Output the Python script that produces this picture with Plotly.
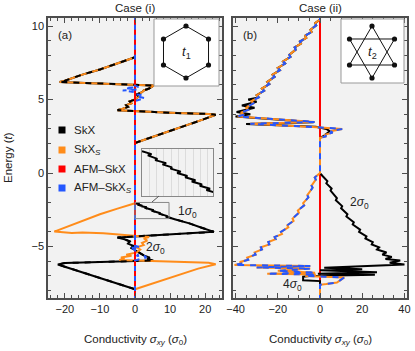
import math
import plotly.graph_objects as go

# ---------------- data: Hall conductivity (sigma_0) vs energy (t) ----------------
# (sigma, E) pairs

# Case (i): SkX, lower band (bottom -> top)
a_skx_low = [(0, -7.9), (-6, -7.45), (-12, -6.95), (-18, -6.5), (-22, -6.22), (-20, -6.12),
             (5.2, -5.95), (3.5, -5.85), (4.2, -5.75), (2.5, -5.6), (1.5, -5.45), (0.5, -5.3),
             (-1, -5.1), (-0.5, -4.95), (-2, -4.8), (-1.5, -4.65), (-3, -4.5), (-5, -4.38),
             (22.5, -4.0), (19, -3.72), (15.5, -3.42), (11.3, -3.14), (9.8, -3.06), (10.2, -3.03),
             (8.8, -2.96), (9.3, -2.93), (7.9, -2.86), (8.2, -2.83), (6.8, -2.76), (7.3, -2.73),
             (5.9, -2.66), (6.2, -2.63), (4.8, -2.56), (5.3, -2.53), (3.9, -2.46), (4.1, -2.43),
             (2.8, -2.36), (3.3, -2.33), (1.8, -2.26), (2.1, -2.23), (0.8, -2.15), (1.3, -2.12),
             (0, -2.05)]

# Case (i): SkX_S, lower band
a_skxs_low = [(0, -7.9), (6, -7.45), (12, -6.95), (18, -6.5), (23, -6.2), (21, -6.1),
              (-4.5, -5.92), (-3, -5.85), (-4, -5.75), (-1, -5.62), (-2.5, -5.55), (0.5, -5.4),
              (1.5, -5.2), (0.5, -5.05), (2.5, -4.9), (2, -4.75), (3.5, -4.6), (2.5, -4.45),
              (4, -4.35), (-1, -4.25), (-6, -4.15), (-9, -4.1), (-15, -4.05), (-18, -4.08),
              (-23, -3.98), (-19, -3.63), (-14.5, -3.2), (-10, -2.8), (-5, -2.42), (0, -2.05)]

# Case (i): upper band, identical for SkX and SkX_S
a_band_up = [(0, 2.05), (5, 2.45), (10, 2.85), (15, 3.3), (19.5, 3.65), (23, 3.97), (21, 4.02),
             (10, 4.1), (-5, 4.28), (-3.5, 4.38), (-2, 4.5), (-2.5, 4.62), (-1, 4.75), (-1.5, 4.88),
             (0, 5.0), (1, 5.2), (0.5, 5.35), (2, 5.5), (2.5, 5.62), (4, 5.75), (5.3, 5.95),
             (-5, 6.05), (-21.5, 6.2), (-20, 6.28), (-15, 6.7), (-10, 7.05), (-5, 7.45), (0, 7.88)]

# Case (i): AFM-SkX_S and AFM-SkX
a_afms = [(0, -8.7), (0, -5.95), (1.5, -5.85), (3.2, -5.75), (2.5, -5.6), (0.5, -5.65), (1, -5.5),
          (0, -5.4), (0, -5.2), (-1.6, -5.08), (1.5, -5.05), (0, -4.95), (0, -4.7), (0, 4.9),
          (2.8, 5.1), (1, 5.2), (2, 5.3), (0, 5.35), (0, 5.5), (-3.5, 5.62), (0.5, 5.68),
          (-2.8, 5.78), (1, 5.85), (0, 5.95), (0, 10.7)]
a_afm = [(0, -8.7), (0, 10.7)]

# Case (ii): SkX_S (AFM-SkX_S is the same)
b_skxs = [(0, -8.7), (0, -7.6), (3, -7.55), (8, -7.45), (9.5, -7.3), (11.5, -7.1), (2, -7.05),
          (-7, -7.0), (-2, -6.9), (-25, -6.85), (-2.3, -6.78), (-20, -6.65), (-4.6, -6.5),
          (-30, -6.42), (-4.6, -6.32), (-40.5, -6.25), (-37, -6.15), (-38, -6.05), (-34, -5.9),
          (-34.5, -5.75), (-30.5, -5.55), (-31, -5.4), (-27.5, -5.2), (-28, -5.05), (-24, -4.85),
          (-24.5, -4.7), (-21, -4.5), (-21.5, -4.35), (-18, -4.15), (-18.5, -4.0), (-15, -3.7),
          (-15.5, -3.55), (-12.5, -3.25), (-13, -3.1), (-10, -2.7), (-10.5, -2.55), (-7.5, -2.2),
          (-8, -2.05), (-5.5, -1.65), (-6, -1.5), (-3.5, -1.0), (-4, -0.85), (-2, -0.45),
          (-2.5, -0.3), (0, 0.0), (0, 2.4), (3, 2.5), (2, 2.6), (6, 2.75), (5, 2.85), (10.5, 3.0),
          (7, 3.05), (-1.5, 3.12), (-33, 3.35), (-2.5, 3.48), (-39, 3.85), (-36, 3.97),
          (-37.5, 4.1), (-34, 4.3), (-35, 4.45), (-31.5, 4.75), (-32.5, 4.9), (-29, 5.15),
          (-30, 5.3), (-26.5, 5.6), (-27.5, 5.75), (-24, 6.05), (-25, 6.2), (-21.5, 6.55),
          (-22.5, 6.7), (-19, 7.0), (-20, 7.15), (-16.5, 7.45), (-17.5, 7.6), (-14, 7.9),
          (-14.5, 8.05), (-11.5, 8.4), (-12, 8.55), (-9, 8.8), (-9.5, 8.95), (-6.5, 9.2),
          (-7, 9.35), (-4, 9.6), (-4.5, 9.75), (-1.8, 10.05), (-2.3, 10.2), (0, 10.45), (0, 10.7)]
b_afms = b_skxs

# Case (ii): SkX
b_skx = [(0, -8.7), (0, -7.65), (0, -7.35), (-8, -7.3), (-8, -7.05), (-5, -7.0), (26, -6.92),
         (-1, -6.85), (27, -6.75), (0, -6.62), (20, -6.55), (2, -6.45), (40, -6.22), (33, -6.1),
         (38, -5.95), (31, -5.85), (34, -5.7), (29.5, -5.55), (31.5, -5.4), (27, -5.2), (28, -5.05),
         (24.5, -4.85), (25, -4.7), (21.5, -4.45), (22, -4.3), (18.5, -4.0), (19, -3.85),
         (15.5, -3.5), (16, -3.35), (12.5, -2.95), (13, -2.8), (10, -2.4), (10.5, -2.25),
         (7.5, -1.85), (8, -1.7), (5, -1.2), (5.5, -1.05), (3, -0.7), (3.5, -0.55), (1.2, -0.2),
         (0, 0.0), (0, 2.4), (2, 2.55), (4.6, 2.85), (3, 3.0), (-2, 3.15), (-35, 3.33), (-3, 3.45),
         (-40, 3.85), (-33, 4.0), (-39.5, 4.15), (-31, 4.45), (-37, 4.6), (-30, 4.85), (-34, 5.0),
         (-29, 5.15), (-30, 5.3), (-26.5, 5.6), (-27.5, 5.75), (-24, 6.05), (-25, 6.2),
         (-21.5, 6.55), (-22.5, 6.7), (-19, 7.0), (-20, 7.15), (-16.5, 7.45), (-17.5, 7.6),
         (-14, 7.9), (-14.5, 8.05), (-11.5, 8.4), (-12, 8.55), (-9, 8.8), (-9.5, 8.95),
         (-6.5, 9.2), (-7, 9.35), (-4, 9.6), (-4.5, 9.75), (-1.8, 10.05), (-2.3, 10.2),
         (0, 10.45), (0, 10.7)]
b_afm = [(0, -8.7), (0, 10.7)]

legend_names = ["SkX", "SkX<sub><i>S</i></sub>", "AFM–SkX", "AFM–SkX<sub><i>S</i></sub>"]
legend_colors = ["#000000", "#ff8c1a", "#ff0000", "#2457ff"]
BLACK, ORANGE, RED, BLUE = legend_colors

W, H = 415, 351
FONT = "Liberation Sans"


def px(x):
    return x / W


def py(y):
    return 1 - y / H


def xy(*segments):
    xs, ys = [], []
    for i, seg in enumerate(segments):
        if i:
            xs.append(None)
            ys.append(None)
        xs += [p[0] for p in seg]
        ys += [p[1] for p in seg]
    return xs, ys


def line(pts_x, pts_y, color, xa, ya, dash="solid"):
    return go.Scatter(x=pts_x, y=pts_y, mode="lines", xaxis=xa, yaxis=ya, showlegend=False,
                      line=dict(color=color, width=2, dash=dash), hoverinfo="skip")


fig = go.Figure()

# case (i)
ax, ay = xy(a_skx_low, a_band_up)
ox, oy = xy(a_skxs_low, a_band_up)
fig.add_trace(line(ax, ay, BLACK, "x", "y"))
fig.add_trace(line(ox, oy, ORANGE, "x", "y"))
fig.add_trace(line(ax, ay, BLACK, "x", "y", "6px,6px"))
fig.add_trace(line(*xy(a_afm), RED, "x", "y"))
fig.add_trace(line(*xy(a_afms), BLUE, "x", "y", "5px,5px"))

# case (ii)
fig.add_trace(line(*xy(b_afm), RED, "x2", "y2"))
fig.add_trace(line(*xy(b_skx), BLACK, "x2", "y2"))
fig.add_trace(line(*xy(b_skxs), ORANGE, "x2", "y2"))
fig.add_trace(line(*xy(b_afms), BLUE, "x2", "y2", "6px,6px"))

# zoom inset of the SkX step region
fig.add_trace(line(ax, ay, BLACK, "x3", "y3"))

axis_common = dict(showline=True, linecolor="#4d4d4d", linewidth=1.5, mirror="allticks",
                   ticks="inside", ticklen=5, tickcolor="#4d4d4d", showgrid=False, zeroline=False,
                   tickfont=dict(family=FONT, size=11, color="#222"))
y_dom = [py(298), py(18)]
fig.update_layout(
    width=W, height=H, margin=dict(l=0, r=0, t=0, b=0),
    paper_bgcolor="white", plot_bgcolor="#f2f2f2", template="none",
    font=dict(family=FONT, size=11, color="#222"),
    xaxis=dict(domain=[px(48), px(222)], range=[-24.8, 24.8], dtick=10, anchor="y",
               minor=dict(dtick=2, ticklen=3, ticks="inside", tickcolor="#4d4d4d"), **axis_common),
    yaxis=dict(domain=y_dom, range=[-8.5, 10.55], dtick=5, anchor="x",
               minor=dict(dtick=1, ticklen=3, ticks="inside", tickcolor="#4d4d4d"), **axis_common),
    xaxis2=dict(domain=[px(233), px(407)], range=[-41.2, 41.2], dtick=20, anchor="y2",
                minor=dict(dtick=5, ticklen=3, ticks="inside", tickcolor="#4d4d4d"), **axis_common),
    yaxis2=dict(domain=y_dom, range=[-8.5, 10.55], dtick=5, anchor="x2", showticklabels=False,
                minor=dict(dtick=1, ticklen=3, ticks="inside", tickcolor="#4d4d4d"), **axis_common),
    xaxis3=dict(domain=[px(142), px(213)], range=[0, 9.7], anchor="y3", showline=True, mirror=True,
                linecolor="#888", linewidth=1, showgrid=True, gridcolor="#dcdcdc", dtick=1,
                showticklabels=False, ticks="", zeroline=False),
    yaxis3=dict(domain=[py(196), py(149)], range=[-3.1, -2.0], anchor="x3", showline=True, mirror=True,
                linecolor="#888", linewidth=1, showgrid=False, showticklabels=False, ticks="",
                zeroline=False),
)

shapes = []
# white backgrounds of insets
shapes.append(dict(type="rect", xref="paper", yref="paper", x0=px(142), x1=px(213), y0=py(196),
                   y1=py(149), fillcolor="white", line=dict(width=0), layer="below"))
for x0, x1, y0, y1 in [(154, 219, 19, 86), (341, 404, 19, 83)]:
    shapes.append(dict(type="rect", xref="paper", yref="paper", x0=px(x0), x1=px(x1), y0=py(y1),
                       y1=py(y0), fillcolor="white", line=dict(color="#999", width=1), layer="above"))

# zoom marker and connector
shapes.append(dict(type="rect", xref="x", yref="y", x0=0, x1=9.7, y0=-3.1, y1=-2.0,
                   line=dict(color="#888", width=1)))
shapes.append(dict(type="line", xref="paper", yref="paper", x0=px(152), y0=py(202), x1=px(159), y1=py(196),
                   line=dict(color="#555", width=1)))


def poly(pts):
    return "M " + " L ".join(f"{px(a):.5f},{py(b):.5f}" for a, b in pts) + " Z"


def vertex(cx, cy, r, ang):
    return (cx + r * math.cos(math.radians(ang)), cy - r * math.sin(math.radians(ang)))


# hexagon (t1)
hexa = [vertex(186, 52, 26, a) for a in (90, 30, -30, -90, -150, 150)]
shapes.append(dict(type="path", xref="paper", yref="paper", path=poly(hexa),
                   line=dict(color="#111", width=1), layer="above"))
# hexagram (t2)
star = [vertex(372, 52, 26, a) for a in (90, 30, -30, -90, -150, 150)]
shapes.append(dict(type="path", xref="paper", yref="paper", path=poly([star[0], star[2], star[4]]),
                   line=dict(color="#111", width=1), layer="above"))
shapes.append(dict(type="path", xref="paper", yref="paper", path=poly([star[1], star[3], star[5]]),
                   line=dict(color="#111", width=1), layer="above"))
for vx, vy in hexa + star:
    shapes.append(dict(type="circle", xref="paper", yref="paper", x0=px(vx - 2.6), x1=px(vx + 2.6),
                       y0=py(vy + 2.6), y1=py(vy - 2.6), fillcolor="#111", line=dict(width=0),
                       layer="above"))

# legend squares
leg_y = [130, 150, 169, 188]
for c, ly in zip(legend_colors, leg_y):
    shapes.append(dict(type="rect", xref="paper", yref="paper", x0=px(58.5), x1=px(65.5),
                       y0=py(ly + 3.5), y1=py(ly - 3.5), fillcolor=c, line=dict(width=0), layer="above"))

fig.update_layout(shapes=shapes)

ann = []


def text(x, y, s, size=11, anchor="center", angle=0):
    ann.append(dict(x=px(x), y=py(y), xref="paper", yref="paper", text=s, showarrow=False,
                    xanchor=anchor, yanchor="middle", textangle=angle,
                    font=dict(family=FONT, size=size, color="#222")))


for name, ly in zip(legend_names, leg_y):
    text(72, ly, name, 11.5, "left")
text(135, 8, "Case (i)", 11.5)
text(320, 8, "Case (ii)", 11.5)
text(65, 35, "(a)", 11.5)
text(250, 35, "(b)", 11.5)
text(8, 158, "Energy (<i>t</i>)", 11.5, angle=-90)
xtitle = "Conductivity <i>σ</i><sub><i>xy</i></sub> (<i>σ</i><sub>0</sub>)"
text(135, 340, xtitle, 11.5)
text(320, 340, xtitle, 11.5)
text(187, 212, "1<i>σ</i><sub>0</sub>", 12)
text(155, 248, "2<i>σ</i><sub>0</sub>", 12)
text(359, 203, "2<i>σ</i><sub>0</sub>", 12)
text(292, 285, "4<i>σ</i><sub>0</sub>", 12)
text(186, 52, "<i>t</i><sub>1</sub>", 13)
text(372, 52, "<i>t</i><sub>2</sub>", 13)
fig.update_layout(annotations=ann)

# page body has a default 8px margin; remove it so the figure fills the window
fig.write_html("out.html", config={"displayModeBar": False},
               post_script="document.body.style.margin='0';")
